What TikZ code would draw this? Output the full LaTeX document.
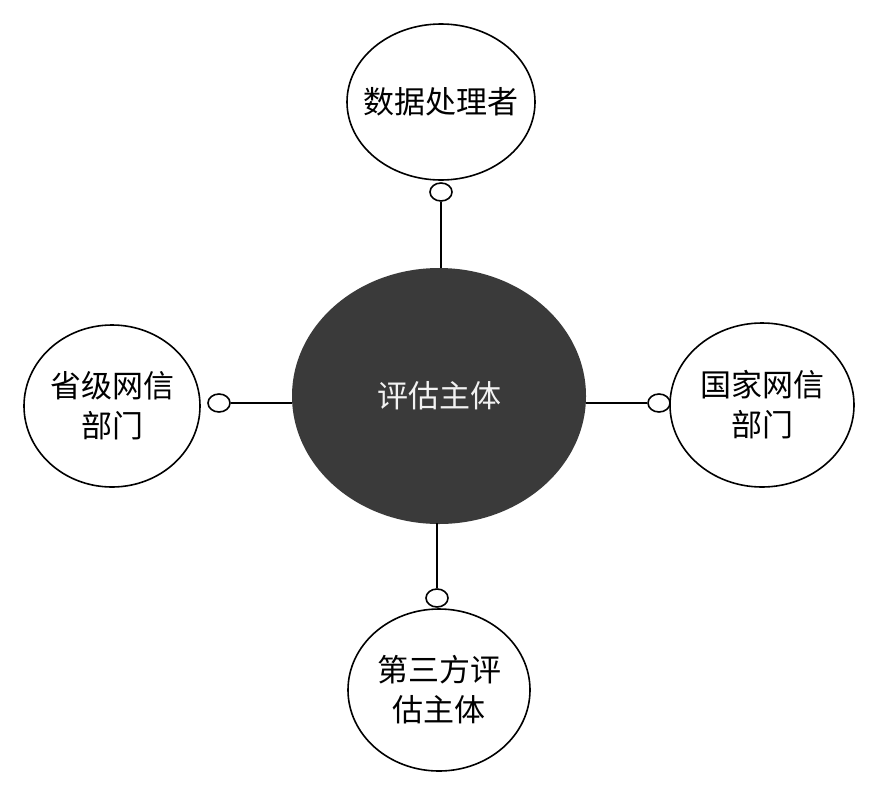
\documentclass[tikz,border=0pt]{standalone}
\usepackage{fontspec}
\setmainfont{Noto Sans CJK SC}
\usetikzlibrary{positioning,shapes.geometric}
\definecolor{hubgray}{HTML}{3A3A3A}
\tikzset{
  role/.style={align=center,font=\fontsize{31}{40}\selectfont},
  joint/.style={draw,line width=1.6pt,fill=white,inner sep=0pt,minimum width=22pt,minimum height=18pt,ellipse},
  link/.style={line width=1.6pt},
  rim/.style={draw,line width=1.6pt}
}
\begin{document}
\begin{tikzpicture}[x=1pt,y=-1pt]
  \useasboundingbox (0,0) rectangle (882,787);
  \fill[hubgray] (439,396) ellipse [x radius=147, y radius=128];
  \draw[rim] (441,102) ellipse [x radius=94, y radius=78];
  \draw[rim] (112,406) ellipse [x radius=88, y radius=81];
  \draw[rim] (762,405) ellipse [x radius=92, y radius=82];
  \draw[rim] (439,690) ellipse [x radius=91, y radius=81];
  \node[role,text=white!90!gray] (hub) at (439,396) {评估主体};
  \node[role] (top) at (441,102) {数据处理者};
  \node[role] (left) at (112,406) {省级网信\\部门};
  \node[role] (right) at (762,405) {国家网信\\部门};
  \node[role] (bottom) at (439,690) {第三方评\\估主体};
  \node[joint] (jtop) at (441,192) {};
  \node[joint] (jleft) at (219,403) {};
  \node[joint] (jright) at (659,403) {};
  \node[joint] (jbottom) at (437,598) {};
  \draw[link] (jtop.south) -- (441,268);
  \draw[link] (jleft.east) -- (292,403);
  \draw[link] (jright.west) -- (586,403);
  \draw[link] (jbottom.north) -- (437,523);
\end{tikzpicture}
\end{document}
